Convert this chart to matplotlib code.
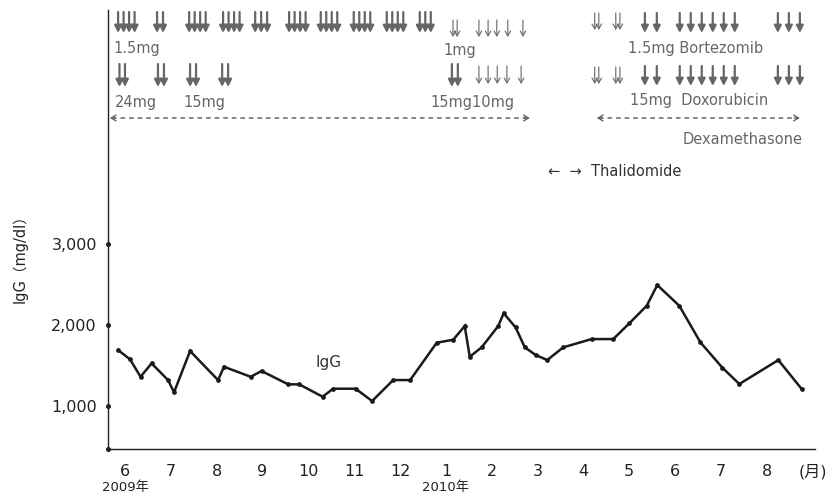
import matplotlib
matplotlib.use("Agg")
import matplotlib.pyplot as plt
from matplotlib.transforms import blended_transform_factory

plt.rcParams['font.family'] = ['DejaVu Sans', 'Noto Sans CJK JP']

# ---- IgG course (x: months from June 2009, tick "6" = 0) ----
igg_month = [-0.15, 0.11, 0.34, 0.58, 0.94, 1.07, 1.42, 2.03, 2.16, 2.74, 2.98,
             3.56, 3.80, 4.31, 4.54, 5.03, 5.39, 5.85, 6.22, 6.80, 7.16, 7.41,
             7.52, 7.78, 8.14, 8.26, 8.52, 8.72, 8.96, 9.21, 9.56, 10.18, 10.65,
             11.00, 11.38, 11.61, 12.09, 12.55, 13.03, 13.40, 14.25, 14.76]
igg_value = [1690, 1575, 1359, 1525, 1318, 1166, 1678, 1318, 1483, 1359, 1430,
             1265, 1265, 1112, 1211, 1211, 1058, 1318, 1318, 1781, 1818, 1987,
             1607, 1724, 1987, 2145, 1971, 1724, 1628, 1566, 1724, 1826, 1826,
             2021, 2239, 2495, 2239, 1786, 1471, 1269, 1566, 1207]

month_ticks = list(range(16))
month_labels = ['6', '7', '8', '9', '10', '11', '12', '1', '2', '3', '4', '5',
                '6', '7', '8', '(月)']
year_labels = ['2009年', '2010年']
year_ticks = [0, 7]
igg_ticks = [1000, 2000, 3000]
igg_tick_labels = ['1,000', '2,000', '3,000']

# ---- dosing schedule (months) ----
bortezomib_2009 = [-0.15, -0.03, 0.09, 0.21, 0.70, 0.83,
                   1.40, 1.52, 1.64, 1.76, 2.14, 2.26, 2.38, 2.50,
                   2.84, 2.97, 3.10, 3.58, 3.70, 3.82, 3.94,
                   4.27, 4.39, 4.51, 4.63, 4.99, 5.11, 5.23, 5.35,
                   5.71, 5.83, 5.95, 6.07, 6.43, 6.55, 6.67]
bortezomib_1mg_pair = [7.20]
bortezomib_1mg = [7.72, 7.92, 8.11, 8.35, 8.68]
dexa_2009 = [-0.12, 0.00, 0.72, 0.85, 1.42, 1.55, 2.12, 2.25, 7.13, 7.26]
dexa_10mg = [7.72, 7.92, 8.12, 8.33, 8.64]
combo_pair = [10.29, 10.75]
combo_2010 = [11.34, 11.60, 12.10, 12.34, 12.58, 12.82, 13.06, 13.30,
              14.24, 14.48, 14.72]
dexa_span_2009 = (-0.33, 8.83)
dexa_span_2010 = (10.29, 14.72)

W, H = 830, 496
fig = plt.figure(figsize=(W / 100, H / 100), dpi=100)
ax = fig.add_axes([108 / W, 1 - 449 / H, (815 - 108) / W, (449 - 10) / H])

INK = '#222222'
GREY = '#666666'

ax.plot(igg_month, igg_value, color='#1a1a1a', lw=1.8, marker='o', ms=2.4,
        solid_joinstyle='miter', zorder=3)
ax.text(4.43, 1541, 'IgG', ha='center', va='center', fontsize=11, color='#333333')

ax.set_xlim(-0.37, 15.05)
ax.set_ylim(464, 5903)
for s in ('top', 'right'):
    ax.spines[s].set_visible(False)
for s in ('left', 'bottom'):
    ax.spines[s].set_color(INK)
    ax.spines[s].set_linewidth(1.0)

ax.set_xticks(month_ticks)
ax.set_xticklabels(month_labels, fontsize=11.5, color=INK)
ax.tick_params(axis='x', length=0, pad=11)
ax.set_yticks(igg_ticks)
ax.set_yticklabels(igg_tick_labels, fontsize=11.5, color=INK)
ax.tick_params(axis='y', length=0, pad=8)

ytr = ax.get_yaxis_transform()
ax.plot([0] * 4, igg_ticks + [464], transform=ytr, ls='', marker='o', ms=2.6,
        color=INK, clip_on=False, zorder=4)

btr = blended_transform_factory(ax.transData, fig.transFigure)
for yt, yl in zip(year_ticks, year_labels):
    ax.text(yt, 1 - 488 / H, yl, transform=btr,
            ha='center', va='center', fontsize=9.5, color=INK)

fig.text(20 / W, 1 - 255 / H, 'IgG（mg/dl）', rotation=90, ha='center', va='center',
         fontsize=10.5, color=INK)

# ---- arrows for drug administration ----
XY = ('data', 'figure fraction')


def fy(px):
    return 1 - px / H


def thick(x, top, bottom):
    ax.annotate('', xy=(x, fy(bottom)), xytext=(x, fy(top)), xycoords=XY, textcoords=XY,
                arrowprops=dict(arrowstyle='-|>,head_length=0.6,head_width=0.3',
                                mutation_scale=7, lw=1.6, color=GREY,
                                shrinkA=0, shrinkB=0))


def thin(x, top, bottom):
    ax.annotate('', xy=(x, fy(bottom)), xytext=(x, fy(top)), xycoords=XY, textcoords=XY,
                arrowprops=dict(arrowstyle='->,head_length=0.5,head_width=0.28',
                                mutation_scale=7, lw=0.8, color=GREY,
                                shrinkA=0, shrinkB=0))


def hollow_pair(x, top, bottom):
    for dx in (-0.045, 0.045):
        thin(x + dx, top, bottom)


for x in bortezomib_2009:
    thick(x, 12, 33)
for x in bortezomib_1mg_pair:
    hollow_pair(x, 20, 37)
for x in bortezomib_1mg:
    thin(x, 20, 37)
for x in dexa_2009:
    thick(x, 64, 87)
for x in dexa_10mg:
    thin(x, 66, 84)
for x in combo_pair:
    hollow_pair(x, 13, 30)
    hollow_pair(x, 67, 84)
for x in combo_2010:
    thick(x, 13, 33)
    thick(x, 66, 86)

# dashed span arrows
for x0, x1 in (dexa_span_2009, dexa_span_2010):
    ax.plot([x0 + 0.05, x1 - 0.05], [fy(118), fy(118)], transform=btr, color=GREY,
            lw=1.1, ls=(0, (3, 2.6)), clip_on=False)
    for xe, xs in ((x0, x0 + 0.12), (x1, x1 - 0.12)):
        ax.annotate('', xy=(xe, fy(118)), xytext=(xs, fy(118)), xycoords=XY, textcoords=XY,
                    arrowprops=dict(arrowstyle='->,head_length=0.5,head_width=0.3',
                                    mutation_scale=7, lw=1.0, color=GREY,
                                    shrinkA=0, shrinkB=0))

# dose and drug labels
labels = [
    ('1.5mg', 113, 49),
    ('1mg', 443, 50),
    ('24mg', 115, 102),
    ('15mg', 183, 102),
    ('15mg10mg', 430, 102),
    ('1.5mg Bortezomib', 628, 49),
    ('15mg  Doxorubicin', 630, 100),
    ('Dexamethasone', 683, 140),
]
for txt, px, py in labels:
    fig.text(px / W, fy(py), txt, ha='left', va='center', fontsize=10.5, color=GREY)

fig.text(548 / W, fy(172), '←  →  Thalidomide', ha='left', va='center',
         fontsize=10.5, color='#333333')

fig.savefig('out.png', dpi=100, facecolor='white')
